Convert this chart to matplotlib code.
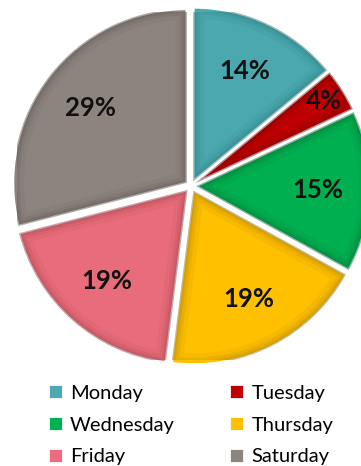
import matplotlib.pyplot as plt
from matplotlib.patches import PathPatch

days = ['Monday', 'Tuesday', 'Wednesday', 'Thursday', 'Friday', 'Saturday']
shares = [14, 4, 15, 19, 19, 29]
colors = ['#4aa8ae', '#c00000', '#00b050', '#ffc000', '#e96c7a', '#8d847e']
shades = ['#1f6a6e', '#600000', '#005a28', '#8a6400', '#8a3540', '#4a4440']

fig = plt.figure(figsize=(3.61, 4.66), dpi=100)
# pie centre sits at (191, 186) px, radius 174 px
cx, cy, r = 191, 186, 174
ax = fig.add_axes([(cx - r) / 361, (466 - cy - r) / 466, 2 * r / 361, 2 * r / 466])

wedges, texts, autotexts = ax.pie(
    shares, colors=colors, startangle=90, counterclock=False,
    explode=[0.03] * 6, autopct='%d%%', pctdistance=0.7,
    wedgeprops={'edgecolor': 'white', 'linewidth': 2},
    textprops={'fontsize': 18.5, 'fontweight': 'bold', 'family': 'Lato',
               'color': '#111111'})
ax.set_xlim(-1.0, 1.0)
ax.set_ylim(-1.0, 1.0)
ax.set_aspect('equal')
for w in wedges:
    w.set_clip_on(False)

# soft inner shading along each slice border
for w, shade in zip(wedges, shades):
    for lw, a in [(16, 0.07), (10, 0.1), (6, 0.14), (3, 0.22)]:
        p = PathPatch(w.get_path(), transform=w.get_transform(),
                      facecolor='none', edgecolor=shade, linewidth=lw,
                      alpha=a, clip_on=True)
        ax.add_patch(p)
        p.set_clip_path(w)

# the thin Tuesday slice has its label pushed outward
t = autotexts[1]
x, y = t.get_position()
t.set_position((x * 0.87 / 0.7, y * 0.87 / 0.7))
for t in autotexts:
    t.set_clip_on(False)

order = [0, 2, 4, 1, 3, 5]
fig.legend([wedges[i] for i in order], [days[i] for i in order],
           ncol=2, loc='upper left', bbox_to_anchor=(0.088, 0.21),
           frameon=False, handlelength=0.75, handleheight=0.75,
           handletextpad=0.35, columnspacing=2.7, labelspacing=0.72,
           borderpad=0.3, prop={'family': 'Lato', 'size': 14.5})

fig.savefig('out.png', dpi=100)
